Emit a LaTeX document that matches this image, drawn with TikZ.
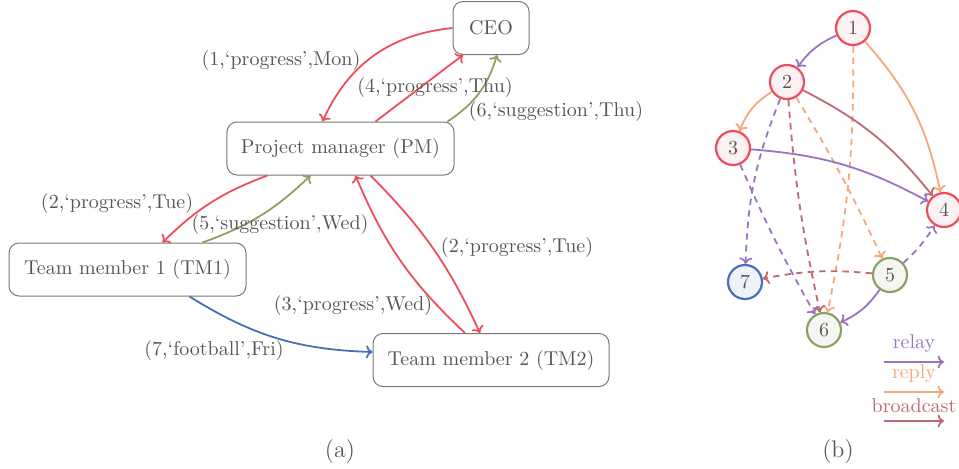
\documentclass[tikz,border=0pt]{standalone}
\usetikzlibrary{arrows.meta}
\definecolor{cred}{RGB}{238,78,92}
\definecolor{cgreen}{RGB}{140,162,100}
\definecolor{cblue}{RGB}{72,112,182}
\definecolor{crelay}{RGB}{155,115,190}
\definecolor{creply}{RGB}{246,168,122}
\definecolor{cbroad}{RGB}{190,104,114}
\definecolor{ctext}{RGB}{85,85,85}
\definecolor{cbox}{RGB}{120,120,120}
\definecolor{fred}{RGB}{252,241,243}
\definecolor{fgreen}{RGB}{245,246,242}
\definecolor{fblue}{RGB}{238,243,249}
\tikzset{
  box/.style={draw=cbox, rounded corners=5pt, text=ctext, minimum height=26.5pt, inner xsep=7pt, line width=0.5pt},
  elabel/.style={text=ctext, inner sep=0pt},
  edge/.style={line width=0.9pt, -{To[length=3.2pt,width=6.5pt]}},
  circ/.style={circle, minimum size=17pt, inner sep=0pt, line width=1.1pt, text=ctext},
  rnode/.style={circ, draw=cred, fill=fred},
  gnode/.style={circ, draw=cgreen, fill=fgreen},
  bnode/.style={circ, draw=cblue, fill=fblue},
  dsh/.style={dash pattern=on 3.2pt off 2.6pt},
}
\begin{document}
\begin{tikzpicture}[x=0.5pt,y=-0.5pt]
\useasboundingbox (0,0) rectangle (959,468);
% ---- (a) ----
\node[box, minimum width=38pt] (ceo) at (491,28) {CEO};
\node[box, minimum width=113.5pt] (pm) at (340.5,148.5) {Project manager (PM)};
\node[box, minimum width=118.5pt] (tm1) at (127.5,269.5) {Team member 1 (TM1)};
\node[box, minimum width=118pt] (tm2) at (491,360) {Team member 2 (TM2)};

\draw[edge, cred] (ceo.west) to[bend right=30] ([xshift=-9pt]pm.north);
\draw[edge, cred] ([xshift=17.5pt]pm.north) -- ([xshift=-14pt]ceo.south);
\draw[edge, cgreen] ([xshift=53.5pt]pm.north) to[bend right=20] ([xshift=3pt]ceo.south);
\draw[edge, cred] ([xshift=-36.5pt]pm.south) to[bend right=12] ([xshift=17.5pt]tm1.north);
\draw[edge, cgreen] ([xshift=37.5pt]tm1.north) to[bend right=12] ([xshift=-15pt]pm.south);
\draw[edge, cred] ([xshift=-13pt]tm2.north) to[bend left=12] ([xshift=7.5pt]pm.south);
\draw[edge, cred] ([xshift=15pt]pm.south) to[bend left=10] ([xshift=-5.5pt]tm2.north);
\draw[edge, cblue] ([xshift=31pt]tm1.south) to[bend right=15] ([yshift=4pt]tm2.west);

\node[elabel] (l1) at (281,60) {(1,`progress',Mon)};
\node[elabel] (l4) at (435,87) {(4,`progress',Thu)};
\node[elabel] (l6) at (556,111) {(6,`suggestion',Thu)};
\node[elabel] (l2a) at (117,203) {(2,`progress',Tue)};
\node[elabel] (l5) at (280,224) {(5,`suggestion',Wed)};
\node[elabel] (l2b) at (517,247) {(2,`progress',Tue)};
\node[elabel] (l3) at (353,305) {(3,`progress',Wed)};
\node[elabel] (l7) at (214,350) {(7,`football',Fri)};
\node[elabel] (capa) at (340,451) {\large (a)};

% ---- (b) ----
\node[rnode] (n1) at (853,28) {1};
\node[rnode] (n2) at (787,82) {2};
\node[rnode] (n3) at (733,148) {3};
\node[rnode] (n4) at (944,210) {4};
\node[gnode] (n5) at (890,275) {5};
\node[gnode] (n6) at (824,330) {6};
\node[bnode] (n7) at (745,282) {7};

\draw[edge, crelay] (n1) to[bend right=15] (n2);
\draw[edge, creply] (n1) to[bend left=15] (n4);
\draw[edge, creply, dsh] (n1) to[bend left=6] (n6);
\draw[edge, creply] (n2) to[bend right=18] (n3);
\draw[edge, cbroad] (n2) to[bend left=12] (n4);
\draw[edge, crelay, dsh] (n2) to[bend right=10] (n7);
\draw[edge, cbroad, dsh] (n2) to[bend right=4] (n6);
\draw[edge, creply, dsh] (n2) to[bend left=3] (n5);
\draw[edge, crelay] (n3) to[bend left=12] (n4);
\draw[edge, crelay, dsh] (n3) to[bend right=3] (n6);
\draw[edge, crelay, dsh] (n5) to[bend right=8] (n4);
\draw[edge, cbroad, dsh] (n5) to[bend right=8] (n7);
\draw[edge, crelay] (n5) to[bend left=15] (n6);

\coordinate (ra) at (884,362); \coordinate (rb) at (944,362);
\coordinate (pa) at (884,392); \coordinate (pb) at (944,392);
\coordinate (ba) at (884,421); \coordinate (bb) at (944,421);
\draw[edge, crelay] (ra) -- node[above, text=crelay, inner sep=4.5pt] (lrelay) {relay} (rb);
\draw[edge, creply] (pa) -- node[above, text=creply, inner sep=4.5pt] (lreply) {reply} (pb);
\draw[edge, cbroad] (ba) -- node[above, text=cbroad, inner sep=3.5pt] (lbroad) {broadcast} (bb);
\node[elabel] (capb) at (838,451) {\large (b)};
\end{tikzpicture}
\end{document}
